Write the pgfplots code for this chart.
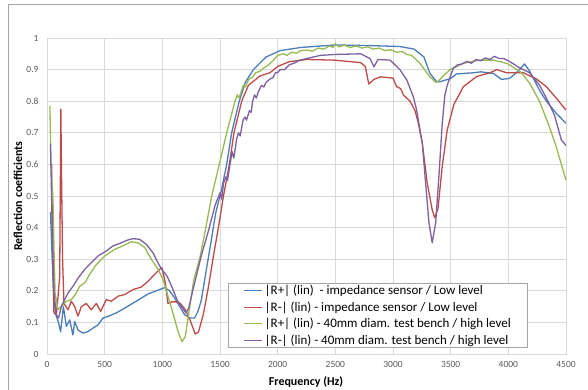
\documentclass[border=0pt]{standalone}
\usepackage{fontspec}
\setmainfont{Carlito}
\usepackage{pgfplots}
\pgfplotsset{compat=1.18}
\definecolor{cB}{HTML}{4A7EBB}
\definecolor{cR}{HTML}{BE4B48}
\definecolor{cG}{HTML}{98B954}
\definecolor{cP}{HTML}{7D60A0}
\definecolor{tickc}{HTML}{595959}
\definecolor{gridc}{HTML}{D9D9D9}
\begin{document}
\begin{tikzpicture}[x=1pt,y=1pt]
\useasboundingbox (0,0) rectangle (588,389);
\draw[gray!70, line width=0.8pt] (8,-10) -- (8,385) -- (600,385);
\begin{axis}[
  at={(47pt,35pt)}, anchor=south west,
  scale only axis, width=519pt, height=316pt,
  xmin=0, xmax=4500, ymin=0, ymax=1,
  xtick={0,500,1000,1500,2000,2500,3000,3500,4000,4500},
  ytick={0,0.1,0.2,0.3,0.4,0.5,0.6,0.7,0.8,0.9,1},
  scaled ticks=false,
  /pgf/number format/1000 sep={},
  /pgf/number format/assume math mode=true,
  major tick length=0pt,
  tick label style={font=\fontsize{9.5}{10}\selectfont, text=tickc},
  xticklabel style={yshift=-4pt},
  yticklabel style={xshift=-5pt},
  grid=major,
  grid style={gridc, line width=0.8pt},
  axis line style={gridc, line width=0.8pt},
  every axis plot/.append style={line width=1.3pt, line join=round},
  legend style={at={(axis description cs:0.349,0.019)}, anchor=south west,
    draw=gray!70, line width=0.6pt, font=\fontsize{13}{15}\selectfont,
    row sep=5.5pt, inner xsep=15pt, inner ysep=2pt, fill=white,
    nodes={inner ysep=0pt}},
  legend cell align=left,
  legend image code/.code={\draw[mark repeat=2,mark phase=2,#1,line width=1.3pt] plot coordinates {(0pt,0pt) (9pt,0pt) (18pt,0pt)};},
]
\addplot[cB] coordinates {(30,0.45)(45,0.3)(60,0.17)(80,0.12)(100,0.1)(118,0.07)(142,0.15)(168,0.087)(197,0.108)(225,0.06)(240,0.103)(269,0.076)(312,0.066)(355,0.071)(399,0.082)(442,0.092)(486,0.114)(529,0.119)(601,0.13)(673,0.145)(746,0.161)(818,0.177)(876,0.19)(948,0.2)(991,0.206)(1020,0.21)(1063,0.2)(1107,0.177)(1150,0.15)(1194,0.124)(1237,0.114)(1280,0.114)(1309,0.135)(1338,0.17)(1377,0.257)(1420,0.35)(1463,0.447)(1510,0.515)(1558,0.6)(1601,0.7)(1667,0.8)(1720,0.86)(1789,0.9)(1900,0.94)(2020,0.96)(2200,0.97)(2500,0.978)(2800,0.976)(3060,0.973)(3182,0.965)(3234,0.95)(3268,0.94)(3320,0.888)(3378,0.862)(3413,0.862)(3500,0.872)(3550,0.886)(3615,0.888)(3700,0.89)(3760,0.893)(3870,0.888)(3940,0.869)(4010,0.872)(4085,0.895)(4140,0.918)(4185,0.895)(4270,0.835)(4330,0.8)(4415,0.762)(4500,0.73)};
\addlegendentry{|R+| (lin)\ \ - impedance sensor / Low level}
\addplot[cR] coordinates {(40,0.6)(50,0.3)(60,0.13)(81,0.124)(100,0.2)(110,0.246)(115,0.5)(120,0.775)(125,0.6)(135,0.3)(147,0.16)(182,0.14)(211,0.167)(240,0.15)(269,0.12)(298,0.15)(341,0.16)(384,0.14)(428,0.16)(465,0.135)(514,0.172)(558,0.167)(616,0.183)(673,0.188)(746,0.204)(818,0.212)(876,0.23)(933,0.252)(977,0.268)(997,0.273)(1026,0.225)(1049,0.16)(1080,0.165)(1114,0.165)(1157,0.16)(1200,0.14)(1243,0.105)(1286,0.063)(1314,0.07)(1357,0.128)(1400,0.213)(1443,0.31)(1486,0.4)(1530,0.5)(1581,0.6)(1621,0.7)(1688,0.8)(1746,0.85)(1847,0.88)(1933,0.89)(2000,0.91)(2100,0.925)(2251,0.932)(2490,0.93)(2720,0.922)(2760,0.91)(2790,0.854)(2835,0.869)(2890,0.877)(3000,0.873)(3032,0.846)(3066,0.84)(3090,0.82)(3148,0.8)(3191,0.77)(3220,0.73)(3254,0.667)(3297,0.54)(3340,0.456)(3361,0.431)(3390,0.46)(3427,0.594)(3470,0.709)(3528,0.79)(3610,0.846)(3725,0.878)(3840,0.89)(3900,0.9)(3985,0.89)(4130,0.89)(4245,0.87)(4330,0.846)(4415,0.81)(4500,0.772)};
\addlegendentry{|R-| (lin) - impedance sensor / Low level}
\addplot[cG] coordinates {(25,0.785)(35,0.6)(52,0.49)(61,0.33)(70,0.193)(95,0.14)(124,0.15)(168,0.167)(211,0.172)(254,0.193)(283,0.214)(327,0.225)(370,0.252)(428,0.283)(500,0.31)(587,0.331)(673,0.345)(731,0.355)(789,0.352)(847,0.337)(905,0.3)(962,0.268)(1006,0.236)(1049,0.183)(1092,0.13)(1136,0.071)(1170,0.039)(1199,0.055)(1229,0.128)(1272,0.233)(1329,0.31)(1372,0.39)(1428,0.5)(1494,0.6)(1558,0.7)(1630,0.8)(1650,0.82)(1665,0.81)(1702,0.85)(1720,0.845)(1750,0.87)(1780,0.875)(1810,0.89)(1847,0.895)(1880,0.905)(1920,0.915)(1950,0.925)(2000,0.945)(2050,0.95)(2080,0.945)(2120,0.955)(2160,0.952)(2200,0.96)(2250,0.962)(2300,0.958)(2350,0.968)(2400,0.965)(2450,0.975)(2480,0.97)(2500,0.982)(2530,0.972)(2580,0.977)(2630,0.97)(2680,0.975)(2730,0.968)(2780,0.972)(2830,0.965)(2880,0.968)(2930,0.96)(2980,0.963)(3030,0.955)(3080,0.957)(3120,0.948)(3160,0.945)(3182,0.938)(3234,0.92)(3297,0.888)(3320,0.877)(3370,0.86)(3390,0.862)(3427,0.877)(3495,0.9)(3528,0.905)(3610,0.92)(3680,0.925)(3754,0.93)(3870,0.93)(3985,0.92)(4100,0.895)(4185,0.857)(4270,0.8)(4355,0.72)(4415,0.656)(4500,0.55)};
\addlegendentry{|R+| (lin) - 40mm diam. test bench / high level}
\addplot[cP] coordinates {(30,0.665)(45,0.4)(61,0.193)(81,0.124)(101,0.114)(124,0.15)(153,0.172)(182,0.193)(225,0.214)(269,0.24)(327,0.268)(384,0.289)(442,0.31)(514,0.326)(572,0.342)(644,0.352)(702,0.361)(746,0.365)(803,0.363)(861,0.347)(919,0.32)(962,0.289)(991,0.27)(1043,0.245)(1086,0.21)(1129,0.17)(1165,0.15)(1205,0.13)(1229,0.145)(1257,0.19)(1300,0.255)(1343,0.318)(1400,0.39)(1457,0.47)(1500,0.51)(1515,0.49)(1530,0.54)(1550,0.56)(1565,0.55)(1587,0.6)(1605,0.64)(1620,0.62)(1644,0.68)(1660,0.7)(1675,0.69)(1700,0.74)(1717,0.75)(1730,0.74)(1755,0.77)(1770,0.765)(1783,0.8)(1800,0.82)(1815,0.81)(1832,0.83)(1860,0.85)(1880,0.845)(1900,0.86)(1933,0.87)(1960,0.875)(1980,0.89)(2000,0.89)(2020,0.9)(2060,0.9)(2100,0.915)(2140,0.92)(2193,0.93)(2370,0.945)(2500,0.948)(2720,0.95)(2800,0.935)(2835,0.909)(2870,0.932)(2975,0.93)(3060,0.9)(3120,0.867)(3176,0.814)(3205,0.772)(3234,0.709)(3254,0.667)(3283,0.54)(3312,0.415)(3340,0.352)(3370,0.415)(3398,0.562)(3427,0.73)(3450,0.82)(3470,0.85)(3523,0.905)(3560,0.915)(3600,0.918)(3640,0.926)(3680,0.92)(3720,0.932)(3760,0.928)(3800,0.937)(3840,0.932)(3880,0.942)(3920,0.935)(3960,0.935)(4010,0.926)(4100,0.905)(4185,0.89)(4270,0.851)(4330,0.81)(4400,0.756)(4460,0.677)(4500,0.66)};
\addlegendentry{|R-| (lin) - 40mm diam. test bench / high level}
\end{axis}
\node[rotate=90, font=\bfseries\fontsize{12}{14}\selectfont] at (18,193) {Reflection coefficients};
\node[font=\bfseries\fontsize{12}{14}\selectfont] at (306,7) {Frequency (Hz)};
\end{tikzpicture}
\end{document}
